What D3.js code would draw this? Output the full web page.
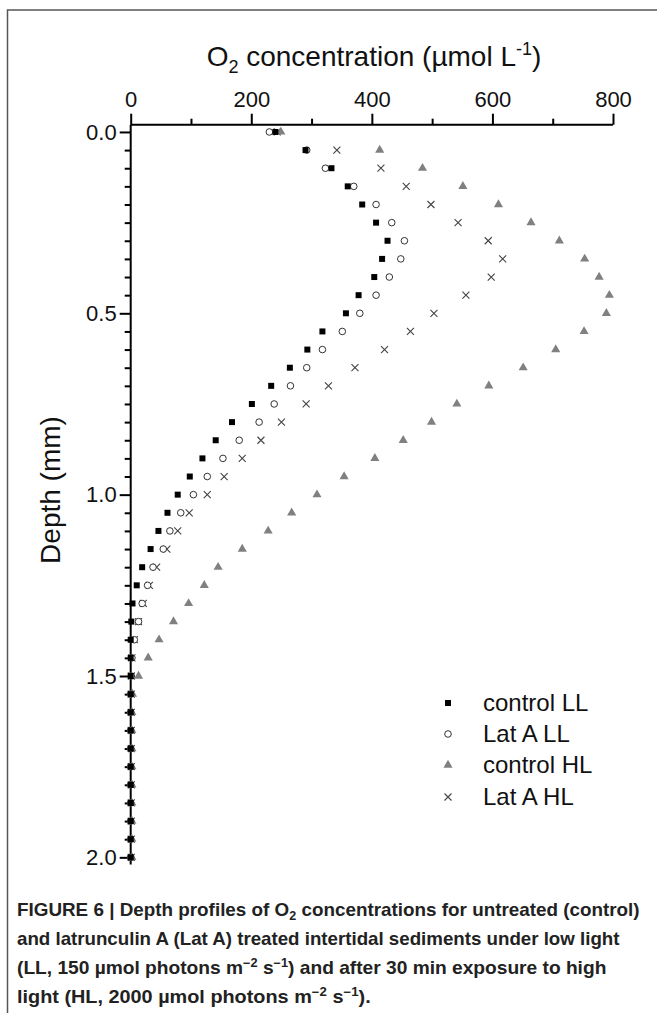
<!DOCTYPE html>
<html>
<head>
<meta charset="utf-8">
<script src="https://cdn.jsdelivr.net/npm/d3@7"></script>
<style>
  html, body { margin: 0; padding: 0; background: #fff; }
  svg { display: block; }
  text { font-family: "Liberation Sans", Arial, sans-serif; }
</style>
</head>
<body>
<svg id="chart" width="657" height="1013"></svg>
<script>
// ---------- data ----------
const depths = [0.00,0.05,0.10,0.15,0.20,0.25,0.30,0.35,0.40,0.45,
                0.50,0.55,0.60,0.65,0.70,0.75,0.80,0.85,0.90,0.95,
                1.00,1.05,1.10,1.15,1.20,1.25,1.30,1.35,1.40,1.45,
                1.50,1.55,1.60,1.65,1.70,1.75,1.80,1.85,1.90,1.95,2.00];

const controlLL = [240,290,333,360,384,407,426,417,404,378,
                   357,318,293,264,233,201,168,141,119,98,
                   78,61,46,33,19,10,3,1,0,0,
                   0,0,0,0,0,0,0,0,0,0,0];

const latALL    = [230,292,323,370,407,433,454,448,429,407,
                   380,351,318,292,265,238,213,180,153,127,
                   104,83,65,54,37,28,19,13,6,2,
                   1,0,0,0,0,0,0,0,0,0,0];

const controlHL = [249,413,484,551,610,664,711,753,777,794,
                   789,752,705,651,594,541,499,452,405,354,
                   309,267,228,185,145,122,96,71,47,29,
                   13,3,2,2,2,2,2,2,2,2,2];

const latAHL    = [243,342,415,457,498,543,593,617,598,556,
                   503,464,421,372,328,291,250,216,185,155,
                   127,97,78,60,43,31,21,13,6,2,
                   1,1,1,1,1,1,1,1,1,1,1];

const xTicks = [0,100,200,300,400,500,600,700,800];
const xTickLabels = ["0","","200","","400","","600","","800"];
const yTicks = depths;
const yTickLabels = {0:"0.0", 0.5:"0.5", 1:"1.0", 1.5:"1.5", 2:"2.0"};

const seriesNames = ["control LL","Lat A LL","control HL","Lat A HL"];

// ---------- drawing ----------
const svg = d3.select("#chart");
svg.append("rect").attr("width",657).attr("height",1013).attr("fill","#fff");

// frame (top and left only)
svg.append("path").attr("d","M7.5,1013V10H657").attr("fill","none")
   .attr("stroke","#555").attr("stroke-width",1.5);

const x = d3.scaleLinear().domain([0,800]).range([130.7,613]);
const y = d3.scaleLinear().domain([-0.02,2.02]).range([124.7,864.6]);

// top axis
const xAxis = d3.axisTop(x).tickValues(xTicks).tickSizeOuter(0)
   .tickSize(0).tickFormat((d,i)=>xTickLabels[i]);
const gx = svg.append("g").attr("transform",`translate(0,${y(-0.02)})`).call(xAxis);
gx.select(".domain").attr("d",`M${x(0)},0H${x(800)}`).attr("stroke","#000").attr("stroke-width",2);
gx.selectAll(".tick line").attr("y2",(d,i)=> xTickLabels[i] ? -11 : -6)
   .attr("stroke","#000").attr("stroke-width",2);
gx.selectAll(".tick text").attr("y",-18).attr("font-size",22).attr("fill","#111")
   .attr("font-family","Liberation Sans, Arial, sans-serif");

// left axis
const yAxis = d3.axisLeft(y).tickValues(yTicks).tickSizeOuter(0).tickSize(0)
   .tickFormat(d => { const k = Math.round(d*100)/100; return yTickLabels[k] || ""; });
const gy = svg.append("g").attr("transform",`translate(${x(0)},0)`).call(yAxis);
gy.select(".domain").attr("d",`M0,${y(-0.02)}V${y(2.02)}`).attr("stroke","#000").attr("stroke-width",2);
gy.selectAll(".tick line").attr("x2",d => { const k = Math.round(d*100)/100; return yTickLabels[k] ? -11 : -6; })
   .attr("stroke","#000").attr("stroke-width",2);
gy.selectAll(".tick text").attr("x",-14).attr("font-size",22).attr("fill","#111")
   .attr("font-family","Liberation Sans, Arial, sans-serif");

// axis titles
const xt = svg.append("text").attr("x",374).attr("y",66).attr("text-anchor","middle")
   .attr("font-size",28).attr("fill","#111");
xt.append("tspan").text("O");
xt.append("tspan").attr("font-size",18).attr("dy",7).text("2");
xt.append("tspan").attr("dy",-7).text(" concentration (\u00B5mol L");
xt.append("tspan").attr("font-size",18).attr("dy",-11).text("-1");
xt.append("tspan").attr("dy",11).text(")");

svg.append("text").attr("transform","translate(60,490) rotate(-90)")
   .attr("text-anchor","middle").attr("font-size",28).attr("fill","#111").text("Depth (mm)");

// markers
const sq = d3.symbol().type(d3.symbolSquare).size(36)();
const tri = d3.symbol().type(d3.symbolTriangle).size(36)();
const cross = "M-3.5,-3.5L3.5,3.5M-3.5,3.5L3.5,-3.5";

const styles = [
  {data: controlLL, draw: g => g.append("path").attr("d",sq).attr("fill","#000")},
  {data: latALL, draw: g => g.append("circle").attr("r",3.3).attr("fill","#fff").attr("stroke","#333").attr("stroke-width",1)},
  {data: controlHL, draw: g => g.append("path").attr("d",tri).attr("fill","#808080")},
  {data: latAHL, draw: g => g.append("path").attr("d",cross).attr("fill","none").attr("stroke","#444").attr("stroke-width",1.1)}
];

const order = [3,2,1,0];
order.forEach(si => {
  const s = styles[si];
  const g = svg.append("g").attr("class","series-"+si);
  depths.forEach((d,i) => {
    const m = g.append("g").attr("transform",`translate(${x(s.data[i])},${y(d)})`);
    s.draw(m);
  });
});

// legend
const legY = [703,734,765,797];
seriesNames.forEach((name,i) => {
  const m = svg.append("g").attr("transform",`translate(448,${legY[i]})`);
  styles[i].draw(m);
  svg.append("text").attr("x",483).attr("y",legY[i]+8).attr("font-size",24)
     .attr("fill","#111").text(name);
});

// caption
const capLines = [
  [{t:"FIGURE 6 | Depth profiles of O"},{t:"2",sub:true},{t:" concentrations for untreated (control)"}],
  [{t:"and latrunculin A (Lat A) treated intertidal sediments under low light"}],
  [{t:"(LL, 150 \u00B5mol photons m"},{t:"\u22122",sup:true},{t:" s"},{t:"\u22121",sup:true},{t:") and after 30 min exposure to high"}],
  [{t:"light (HL, 2000 \u00B5mol photons m"},{t:"\u22122",sup:true},{t:" s"},{t:"\u22121",sup:true},{t:")."}]
];
const capWidths = [623, 603, 590, 354];
const capBase = [916, 945, 974, 1003];
capLines.forEach((parts,li) => {
  const t = svg.append("text").attr("x",0).attr("y",0).attr("font-size",18)
     .attr("font-weight","bold").attr("fill","#222");
  parts.forEach(p => {
    const ts = t.append("tspan").text(p.t);
    if (p.sub) ts.attr("font-size",12).attr("dy",4);
    else if (p.sup) ts.attr("font-size",12).attr("dy",-7);
  });
  t.selectAll("tspan").each(function(_,k){
    const p = parts[k], prev = parts[k-1];
    if (!p.sub && !p.sup && prev && (prev.sub || prev.sup)) d3.select(this).attr("dy", prev.sub ? -4 : 7);
  });
  const w = t.node().getComputedTextLength();
  const sx = capWidths[li] / w;
  t.attr("transform",`translate(17,${capBase[li]}) scale(${sx},1)`);
});
</script>
</body>
</html>
